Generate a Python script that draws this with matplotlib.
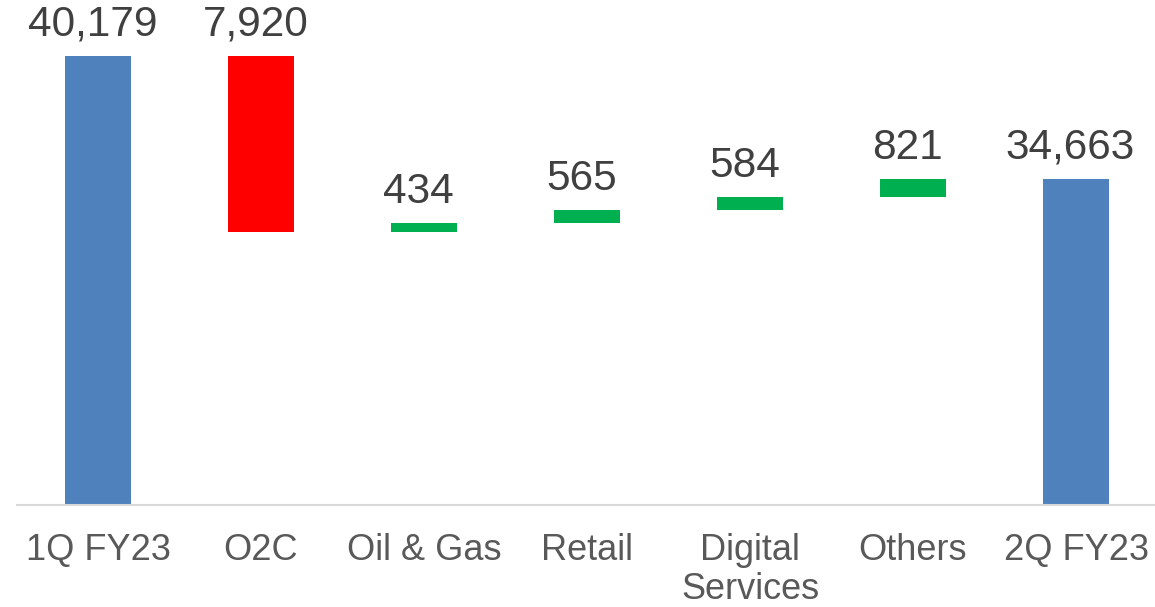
import matplotlib

matplotlib.use("Agg")
import matplotlib.pyplot as plt
import numpy as np

plt.rcParams["font.family"] = ["Liberation Sans", "DejaVu Sans"]

# --- data -----------------------------------------------------------------
categories = ["1Q FY23", "O2C", "Oil & Gas", "Retail", "Digital\nServices", "Others", "2Q FY23"]
start_value = 40179
changes = [-7920, 434, 565, 584, 821]
end_value = 34663
labels = ["40,179", "7,920", "434", "565", "584", "821", "34,663"]

BLUE = "#4f81bd"
RED = "#ff0000"
GREEN = "#00b050"
Y_MIN = 20000

# --- waterfall geometry from the data --------------------------------------
bottoms, heights, colors = [Y_MIN], [start_value - Y_MIN], [BLUE]
level = start_value
for c in changes:
    new = level + c
    bottoms.append(min(level, new))
    heights.append(abs(c))
    colors.append(GREEN if c > 0 else RED)
    level = new
bottoms.append(Y_MIN)
heights.append(end_value - Y_MIN)
colors.append(BLUE)

fig = plt.figure(figsize=(11.55, 6.07), dpi=100)
ax = fig.add_axes([16.5 / 1155, 102 / 607, 1141 / 1155, 505 / 607])

x = np.arange(len(categories))
ax.bar(x, heights, 0.40, bottom=bottoms, color=colors, zorder=2)

for xi, b, h, lab in zip(x, bottoms, heights, labels):
    ax.annotate(lab, (xi, b + h), xytext=(-4, 8), textcoords="offset points",
                ha="center", va="bottom", fontsize=30.5, color="#404040")

ax.set_xlim(-0.5, len(categories) - 0.5)
ax.set_ylim(Y_MIN, 42700)
for s in ["left", "right", "top"]:
    ax.spines[s].set_visible(False)
ax.spines["bottom"].set_color("#d9d9d9")
ax.spines["bottom"].set_linewidth(1.5)
ax.set_yticks([])
ax.set_xticks(x)
ax.set_xticklabels(categories, fontsize=26, color="#595959", linespacing=1.15)
ax.tick_params(axis="x", length=0, pad=20)

fig.savefig("out.png", dpi=100)
